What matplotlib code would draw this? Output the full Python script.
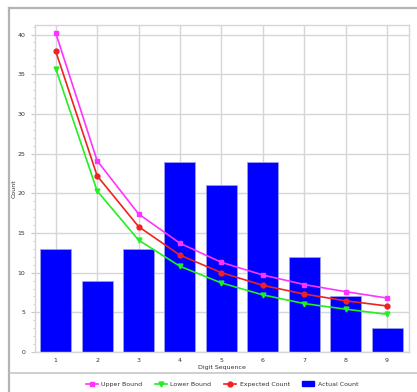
import matplotlib
matplotlib.use("Agg")
import matplotlib.pyplot as plt
from matplotlib.lines import Line2D
from matplotlib.ticker import MultipleLocator
import numpy as np

digits = [1, 2, 3, 4, 5, 6, 7, 8, 9]
actual = [13, 9, 13, 24, 21, 24, 12, 7, 3]
expected = [37.9, 22.2, 15.8, 12.2, 10.0, 8.4, 7.3, 6.45, 5.8]
upper = [40.2, 24.1, 17.4, 13.7, 11.3, 9.7, 8.5, 7.6, 6.8]
lower = [35.7, 20.3, 14.1, 10.8, 8.7, 7.2, 6.1, 5.4, 4.75]

W, H = 417, 392
fig = plt.figure(figsize=(W / 100, H / 100), dpi=100)
ax = fig.add_axes([35 / W, 1 - 352 / H, 374 / W, 327 / H])

grid_c = '#d4d6da'
ax.set_axisbelow(True)
ax.grid(True, color=grid_c, linewidth=1.0)

ax.bar(digits, actual, width=0.75, color='#0000ff', edgecolor='#9a9cf0',
       linewidth=0.6, label='Actual Count', zorder=2)
ax.plot(digits, upper, color='#ff33ff', marker='s', markersize=3.5,
        linewidth=1.2, label='Upper Bound', zorder=3)
ax.plot(digits, lower, color='#22ee22', marker='v', markersize=3.5,
        linewidth=1.2, label='Lower Bound', zorder=3)
ax.plot(digits, expected, color='#ee2222', marker='o', markersize=3.5,
        linewidth=1.2, label='Expected Count', zorder=3)

ax.set_xlim(0.5, 9.53)
ax.set_ylim(0, 41.2)
ax.set_xticks(digits)
ax.yaxis.set_major_locator(MultipleLocator(5))
ax.yaxis.set_minor_locator(MultipleLocator(1))
ax.tick_params(axis='both', which='major', labelsize=4.5, length=3,
               color='#c8c8c8', labelcolor='#333333', pad=4)
ax.tick_params(axis='y', which='minor', length=1.5, color='#c8c8c8')
ax.tick_params(axis='x', length=0)
for s in ax.spines.values():
    s.set_color(grid_c)
    s.set_linewidth(1.0)

ax.set_xlabel('Digit Sequence', fontsize=4.5, color='#333333', labelpad=2)
ax.set_ylabel('Count', fontsize=4.5, color='#333333')
ax.yaxis.set_label_coords(-0.048, 0.5)

# outer frame and legend separator
fig.add_artist(Line2D([9 / W, 9 / W], [0, 1 - 8 / H], color='#b0b4b8', linewidth=1.6))
fig.add_artist(Line2D([9 / W, 1], [1 - 8 / H, 1 - 8 / H], color='#b0b4b8', linewidth=1.6))
fig.add_artist(Line2D([10 / W, 1], [1 - 373 / H, 1 - 373 / H], color='#c4c8cc', linewidth=1.2))

handles = [
    Line2D([], [], color='#ff33ff', marker='s', markersize=3.5, linewidth=1.2),
    Line2D([], [], color='#22ee22', marker='v', markersize=3.5, linewidth=1.2),
    Line2D([], [], color='#ee2222', marker='o', markersize=3.5, linewidth=1.2),
    plt.Rectangle((0, 0), 1, 1, color='#0000ff'),
]
fig.legend(handles, ['Upper Bound', 'Lower Bound', 'Expected Count', 'Actual Count'],
           loc='center', bbox_to_anchor=(222 / W, 1 - 384 / H), ncol=4,
           frameon=False, fontsize=4.5, handlelength=1.9, columnspacing=2.0,
           handletextpad=0.6, labelcolor='#333333')

fig.savefig('out.png', dpi=100)
